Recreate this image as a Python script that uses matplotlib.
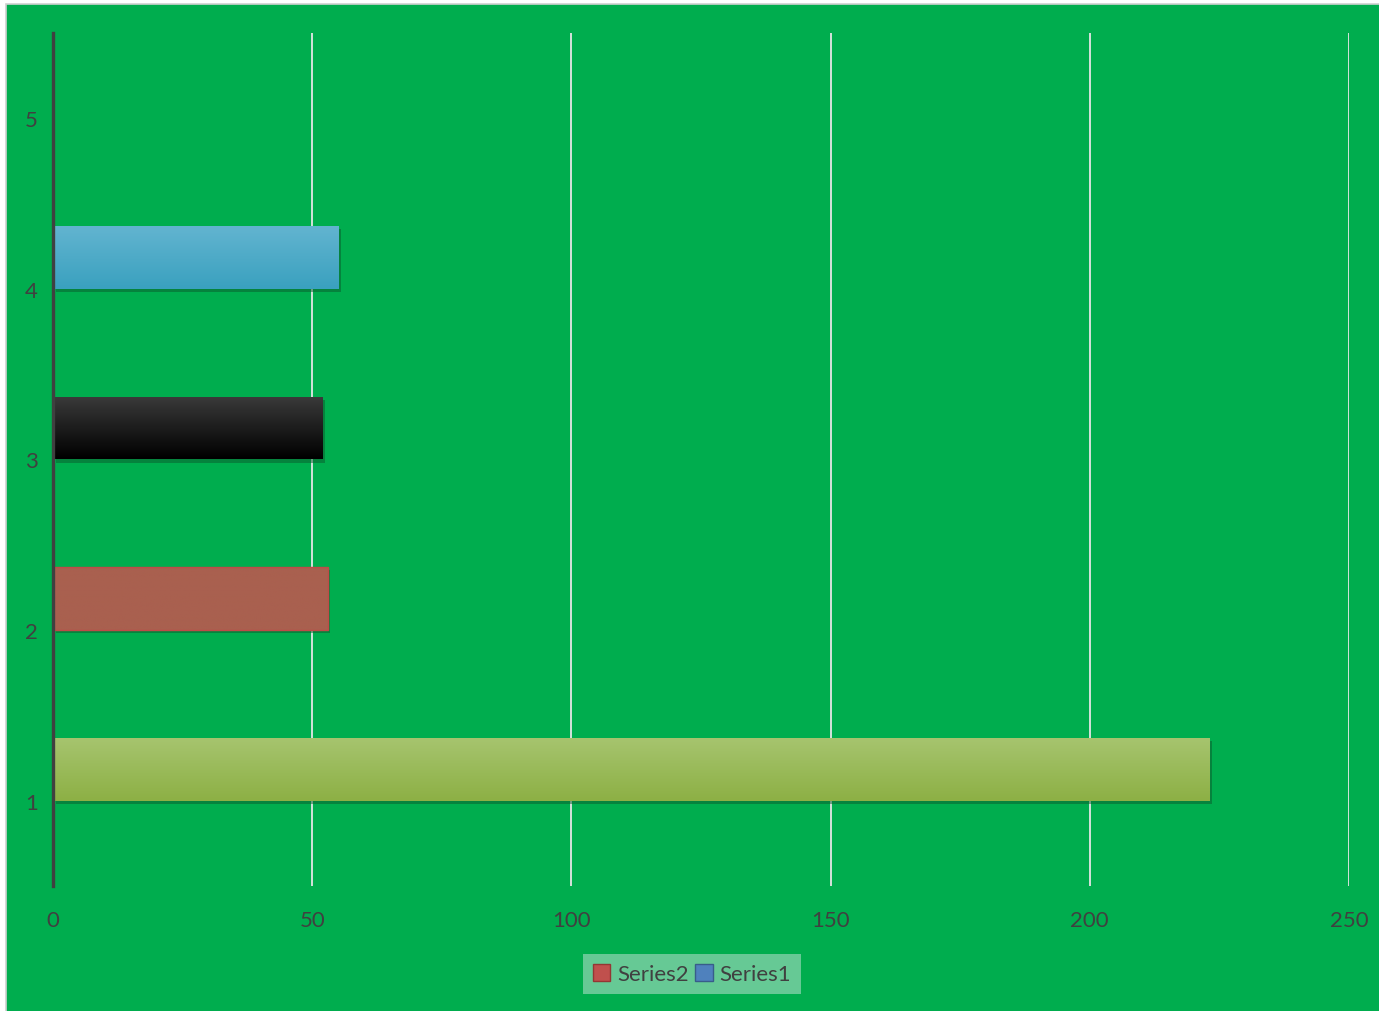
import matplotlib.pyplot as plt
import matplotlib.colors as mcolors
import numpy as np
from matplotlib.patches import Rectangle, Patch

plt.rcParams['font.family'] = ['Lato', 'DejaVu Sans']

categories = [1, 2, 3, 4, 5]
series1 = [0, 0, 0, 0, 0]
series2 = [223, 53, 52, 55, 0]
# excel "vary colors by point" fills: (top, bottom) of the gradient
point_colors = [('#a6c46e', '#8db045'), ('#a9604f', '#a9604f'), ('#3a3a3a', '#000000'),
                ('#62b4d0', '#3aa1bf'), ('#9b9b9b', '#7d7d7d')]
edge_colors = ['none', '#be4b48', 'none', 'none', 'none']
x_ticks = [0, 50, 100, 150, 200, 250]

bg = '#00ad4e'
txt = '#404040'

fig = plt.figure(figsize=(13.79, 10.12), dpi=100)
fig.patch.set_facecolor('white')
fig.patches.append(Rectangle((5.5 / 1379, -0.01), 1.02, 1 - 4.5 / 1012 + 0.01, transform=fig.transFigure,
                             facecolor=bg, edgecolor='#d0d0d0', linewidth=1.2, zorder=-10))

ax = fig.add_axes([53 / 1379, 1 - 887 / 1012, 1296 / 1379, 853 / 1012])
ax.set_facecolor('none')
ax.set_zorder(1)

h = 0.368
y = np.array(categories, dtype=float)
b1 = ax.barh(y - h / 2, series1, height=h, color='#4f81bd', zorder=3)
b2 = ax.barh(y + h / 2, series2, height=h, color='none', edgecolor='none', zorder=3)

grad = np.linspace(0, 1, 64).reshape(-1, 1)
for bar, (c_top, c_bot), ec, v in zip(b2, point_colors, edge_colors, series2):
    if v == 0:
        continue
    x0, y0 = bar.get_x(), bar.get_y()
    w, hh = bar.get_width(), bar.get_height()
    # drop shadow
    ax.add_patch(Rectangle((x0 + 0.5, y0 - 0.018), w, hh, facecolor='#0b5a2e', alpha=0.5,
                           edgecolor='none', zorder=2))
    top = np.array(mcolors.to_rgb(c_top))
    bot = np.array(mcolors.to_rgb(c_bot))
    img = bot + (top - bot) * grad
    im = ax.imshow(img[:, None, :].repeat(2, axis=1), extent=[x0, x0 + w, y0, y0 + hh],
                   origin='lower', aspect='auto', zorder=3)
    im.set_clip_path(bar)
    bar.set_edgecolor(ec)
    bar.set_linewidth(1.0)
    bar.set_zorder(4)

ax.set_xlim(0, 250)
ax.set_ylim(0.5, 5.5)
ax.set_xticks(x_ticks)
ax.set_yticks(categories)
ax.set_yticklabels([str(c) for c in categories])
ax.grid(axis='x', color='#e6e6e6', linewidth=1.3, zorder=1)
ax.set_axisbelow(True)
for s in ['top', 'right', 'bottom']:
    ax.spines[s].set_visible(False)
ax.spines['left'].set_color(txt)
ax.spines['left'].set_linewidth(2.4)
ax.spines['left'].set_zorder(5)
ax.tick_params(length=0, colors=txt, labelsize=16)
ax.tick_params(axis='x', pad=17)
ax.tick_params(axis='y', pad=11)

handles = [Patch(facecolor='#c0504d', edgecolor='#943634'),
           Patch(facecolor='#4f81bd', edgecolor='#385d8a')]
leg = fig.legend(handles, ['Series2', 'Series1'], loc='center', bbox_to_anchor=(692 / 1379, 1 - 975 / 1012),
                 ncol=2, frameon=True, fontsize=16, handlelength=0.8, handleheight=0.8,
                 handletextpad=0.3, columnspacing=0.3, borderpad=0.45, borderaxespad=0,
                 fancybox=False)
leg.get_frame().set_facecolor('#66c995')
leg.get_frame().set_edgecolor('none')
leg.get_frame().set_alpha(1)
for t in leg.get_texts():
    t.set_color(txt)

fig.savefig('out.png', dpi=100)
